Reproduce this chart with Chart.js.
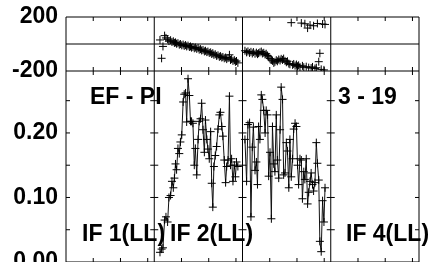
<!DOCTYPE html>
<html>
<head>
<meta charset="utf-8">
<script src="https://cdn.jsdelivr.net/npm/chart.js@4.4.0/dist/chart.umd.min.js"></script>
<style>
  html, body { margin: 0; padding: 0; background: #fff; }
</style>
</head>
<body>
<canvas id="c" width="432" height="262"></canvas>
<script>
// time units per IF panel, ticks inside each panel
const PANEL = 3.24;
const panelTicks = [1, 2, 3];
const ampMinor = [0.05, 0.10, 0.15, 0.20, 0.25];
const ampLabels = [0, 0.10, 0.20];
const phaseLabels = [-200, 200];

// IF 2 (LL)
const if2Time = [0.21, 0.27, 0.32, 0.38, 0.43, 0.49, 0.54, 0.60, 0.65, 0.70, 0.74, 0.78, 0.82, 0.87, 0.92, 0.96,
  1.01, 1.06, 1.10, 1.15, 1.19, 1.24, 1.29, 1.33, 1.37, 1.42, 1.47, 1.51, 1.56, 1.61, 1.65, 1.70, 1.74, 1.79,
  1.84, 1.88, 1.93, 1.97, 2.02, 2.07, 2.11, 2.15, 2.19, 2.24, 2.29, 2.34, 2.39, 2.43, 2.48, 2.52, 2.57, 2.62,
  2.66, 2.71, 2.76, 2.80, 2.84, 2.89, 2.94, 2.98, 3.02, 3.07];
const if2Amp = [0.015, 0.020, 0.022, 0.065, 0.070, 0.062, 0.100, 0.103, 0.125, 0.115, 0.130, 0.152, 0.143, 0.176, 0.168, 0.186,
  0.197, 0.248, 0.260, 0.262, 0.217, 0.284, 0.258, 0.218, 0.218, 0.215, 0.150, 0.176, 0.135, 0.190, 0.218, 0.222, 0.246, 0.205,
  0.170, 0.220, 0.190, 0.175, 0.160, 0.202, 0.122, 0.085, 0.148, 0.165, 0.179, 0.206, 0.228, 0.232, 0.210, 0.195, 0.158, 0.123,
  0.148, 0.158, 0.257, 0.150, 0.160, 0.125, 0.150, 0.132, 0.155, 0.148];
const if2Phase = [30, -106, -18, 62, 45, 35, 22, 28, 15, 20, 8, 12, 2, 6, -5, 0,
  -10, -4, -14, -8, -18, -12, -22, -18, -27, -22, -32, -26, -36, -30, -42, -38, -48, -44,
  -55, -50, -60, -56, -66, -62, -74, -68, -80, -76, -88, -84, -95, -90, -100, -96, -106, -100,
  -112, -104, -80, -118, -112, -125, -120, -132, -126, -140];

// IF 3 (LL)
const if3Time = [0.09, 0.15, 0.20, 0.26, 0.31, 0.36, 0.40, 0.46, 0.51, 0.55, 0.59, 0.64, 0.69, 0.73, 0.78, 0.83,
  0.87, 0.92, 0.96, 1.01, 1.06, 1.10, 1.15, 1.19, 1.24, 1.28, 1.33, 1.38, 1.42, 1.47, 1.51, 1.56,
  1.61, 1.65, 1.70, 1.74, 1.79, 1.84, 1.88, 1.93, 1.98, 2.02, 2.06, 2.11, 2.16, 2.20, 2.25, 2.29,
  2.34, 2.39, 2.43, 2.48, 2.52, 2.57, 2.61, 2.66, 2.71, 2.75, 2.80, 2.84, 2.89, 2.94, 2.99, 3.03];
const if3Amp = [0.190, 0.125, 0.213, 0.216, 0.070, 0.178, 0.209, 0.142, 0.155, 0.120, 0.210, 0.190, 0.259, 0.252, 0.235, 0.200,
  0.235, 0.228, 0.133, 0.170, 0.067, 0.210, 0.152, 0.140, 0.228, 0.158, 0.130, 0.205, 0.271, 0.252, 0.135, 0.138,
  0.185, 0.172, 0.115, 0.190, 0.132, 0.160, 0.206, 0.215, 0.210, 0.150, 0.120, 0.160, 0.158, 0.098, 0.140, 0.128,
  0.160, 0.090, 0.108, 0.125, 0.138, 0.120, 0.110, 0.123, 0.185, 0.153, 0.127, 0.032, 0.016, 0.095, 0.062, 0.115];
const if3Phase = [-50, -62, -55, -66, -58, -70, -60, -72, -64, -75, -68, -62, -56, -70, -65, -78,
  -72, -85, -95, -108, -118, -125, -140, -132, -120, -128, -115, -122, -110, -118, -108, -125,
  -135, -128, -145, -150, 158, -155, -148, -160, -152, -165, -158, -170, 155, -162, -172, 150,
  -168, 118, -175, 140, -178, -170, 135, -182, -176, 152, -131, -69, -188, 148, -192, 145];

const FONT = { family: '"Liberation Sans", Arial, sans-serif', size: 23, weight: 'bold' };

function pts(panel, times, vals) {
  return times.map((t, i) => ({ x: panel * PANEL + t, y: vals[i] }));
}

const framePlugin = {
  id: 'frame',
  afterDatasetsDraw(chart) {
    const { ctx, chartArea: a, scales } = chart;
    const xs = scales.x, ya = scales.ya, yp = scales.yp;
    const yb = yp.getPixelForValue(-200);
    const y0 = yp.getPixelForValue(0);
    ctx.save();
    ctx.strokeStyle = '#000';
    ctx.lineWidth = 1;
    ctx.beginPath();
    ctx.rect(a.left, a.top, a.right - a.left, a.bottom - a.top);
    ctx.moveTo(a.left, yb); ctx.lineTo(a.right, yb);
    ctx.moveTo(a.left, y0); ctx.lineTo(a.right, y0);
    const seps = [1, 2, 3].map(i => xs.getPixelForValue(i * PANEL));
    seps.forEach(sx => { ctx.moveTo(sx, a.top); ctx.lineTo(sx, a.bottom); });
    // time ticks
    for (let p = 0; p < 4; p++) {
      panelTicks.forEach(t => {
        const px = xs.getPixelForValue(p * PANEL + t);
        ctx.moveTo(px, a.top); ctx.lineTo(px, a.top + 4);
        ctx.moveTo(px, yb - 4); ctx.lineTo(px, yb + 4);
        ctx.moveTo(px, a.bottom - 4); ctx.lineTo(px, a.bottom);
      });
    }
    // amplitude ticks
    ampMinor.forEach(v => {
      const py = ya.getPixelForValue(v);
      ctx.moveTo(a.left, py); ctx.lineTo(a.left + 4, py);
      seps.forEach(sx => { ctx.moveTo(sx - 4, py); ctx.lineTo(sx + 4, py); });
      ctx.moveTo(a.right - 4, py); ctx.lineTo(a.right, py);
    });
    ctx.stroke();

    // labels
    ctx.fillStyle = '#000';
    ctx.font = 'bold 23px "Liberation Sans", Arial, sans-serif';
    ctx.textAlign = 'left';
    ctx.textBaseline = 'alphabetic';
    const top = a.top + 87;
    const bot = a.bottom - 21;
    ctx.fillText('EF - PI', a.left + 24, top);
    ctx.fillText('3 - 19', a.left + 272, top);
    ctx.fillText('IF 1(LL)', a.left + 16, bot);
    ctx.fillText('IF 2(LL)', a.left + 104, bot);
    ctx.fillText('IF 4(LL)', a.left + 280, bot);
    ctx.restore();
  }
};

const ptStyle = {
  pointStyle: 'cross', pointRadius: 4, pointBorderWidth: 1,
  pointBorderColor: '#000', borderColor: '#111', borderWidth: 1
};

new Chart(document.getElementById('c'), {
  type: 'scatter',
  data: {
    datasets: [
      { ...ptStyle, data: pts(1, if2Time, if2Amp), yAxisID: 'ya', showLine: true },
      { ...ptStyle, data: pts(2, if3Time, if3Amp), yAxisID: 'ya', showLine: true },
      { ...ptStyle, data: pts(1, if2Time, if2Phase), yAxisID: 'yp', showLine: false },
      { ...ptStyle, data: pts(2, if3Time, if3Phase), yAxisID: 'yp', showLine: false },
    ]
  },
  options: {
    responsive: false,
    animation: false,
    devicePixelRatio: 1,
    layout: { autoPadding: false, padding: { top: 17, right: 13, left: 0, bottom: 0 } },
    plugins: { legend: { display: false }, tooltip: { enabled: false } },
    scales: {
      x: { type: 'linear', min: 0, max: 4 * PANEL, display: false },
      ya: {
        type: 'linear', position: 'left', stack: 'v', stackWeight: 191,
        min: 0, max: 0.296,
        grid: { display: false, drawTicks: false },
        border: { display: false },
        afterBuildTicks: s => { s.ticks = ampLabels.map(v => ({ value: v })); },
        afterFit: s => { s.width = 66; s.paddingTop = 0; s.paddingBottom = 0; },
        ticks: { padding: 8, color: '#000', font: FONT, autoSkip: false, callback: v => v.toFixed(2) }
      },
      yp: {
        type: 'linear', position: 'left', stack: 'v', stackWeight: 54,
        min: -200, max: 200,
        grid: { display: false, drawTicks: false },
        border: { display: false },
        afterBuildTicks: s => { s.ticks = phaseLabels.map(v => ({ value: v })); },
        afterFit: s => { s.width = 66; s.paddingTop = 0; s.paddingBottom = 0; },
        ticks: { padding: 8, color: '#000', font: FONT, autoSkip: false, callback: v => String(v) }
      }
    }
  },
  plugins: [framePlugin]
});
</script>
</body>
</html>
